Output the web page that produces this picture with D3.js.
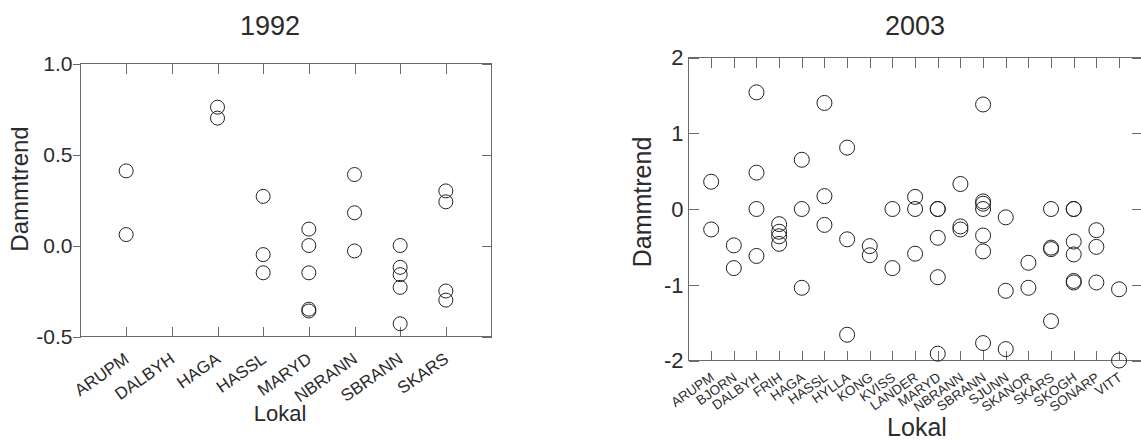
<!DOCTYPE html>
<html>
<head>
<meta charset="utf-8">
<script src="https://cdn.jsdelivr.net/npm/d3@7"></script>
<style>
    body { margin: 0; background: #fff; }
    svg { display: block; font-family: Arial, "Liberation Sans", sans-serif; }
    .frame { stroke: #6a6a6a; stroke-width: 1; fill: none; shape-rendering: crispEdges; }
    .tick-line { stroke: #6a6a6a; stroke-width: 1; shape-rendering: crispEdges; }
    .dot { fill: none; stroke: #222; stroke-width: 1; }
    text { fill: #2b2b2b; }
</style>
</head>
<body>
<div class="chart"></div>
<script>

//////////
// DATA //
//////////

// 1992 panel
var sites1992 = ['ARUPM', 'DALBYH', 'HAGA', 'HASSL', 'MARYD', 'NBRANN', 'SBRANN', 'SKARS'];
var trend1992 = [
    [0.41, 0.06],
    [],
    [0.76, 0.70],
    [0.27, -0.05, -0.15],
    [0.09, 0.00, -0.15, -0.35, -0.36],
    [0.39, 0.18, -0.03],
    [0.00, -0.12, -0.16, -0.23, -0.43],
    [0.30, 0.24, -0.25, -0.30]
];
var yTicks1992 = [-0.5, 0.0, 0.5, 1.0];

// 2003 panel
var sites2003 = ['ARUPM', 'BJORN', 'DALBYH', 'FRIH', 'HAGA', 'HASSL', 'HYLLA', 'KONG', 'KVISS', 'LANDER',
    'MARYD', 'NBRANN', 'SBRANN', 'SJUNN', 'SKANOR', 'SKARS', 'SKOGH', 'SONARP', 'VITT'];
var trend2003 = [
    [0.36, -0.27],
    [-0.48, -0.78],
    [1.54, 0.48, 0.00, -0.62],
    [-0.20, -0.30, -0.36, -0.46],
    [0.65, 0.00, -1.04],
    [1.40, 0.17, -0.21],
    [0.81, -0.40, -1.66],
    [-0.49, -0.61],
    [0.00, -0.78],
    [0.16, 0.00, -0.59],
    [0.00, 0.00, -0.38, -0.90, -1.91],
    [0.33, -0.23, -0.27],
    [1.38, 0.10, 0.07, 0.00, -0.35, -0.56, -1.77],
    [-0.11, -1.08, -1.85],
    [-0.71, -1.04],
    [0.00, -0.51, -0.53, -1.48],
    [0.00, 0.00, -0.43, -0.60, -0.95, -0.97],
    [-0.28, -0.50, -0.97],
    [-1.06, -2.00]
];
var yTicks2003 = [-2, -1, 0, 1, 2];

//////////////////
// PAGE ELEMENT //
//////////////////

var svg = d3.select('.chart')
    .append('svg')
    .attr('width', 1141)
    .attr('height', 441);

// plain hyphen for negatives, like the original
function hyphen(f) {
    return function(d) { return f(d).replace('\u2212', '-'); };
}

//////////////////////////
// PANEL DRAWING METHOD //
//////////////////////////

function drawPanel(o) {

    var xScale = d3.scalePoint()
        .domain(o.sites)
        .range([o.left, o.right])
        .padding(1);

    var yScale = d3.scaleLinear()
        .domain(o.yDomain)
        .range([o.bottom, o.top]);

    var g = svg.append('g');

    // flatten points
    var points = [];
    o.sites.forEach(function(s, i) {
        o.values[i].forEach(function(v) {
            points.push({ site: s, value: v });
        });
    });

    // frame
    g.append('rect')
        .attr('class', 'frame')
        .attr('x', o.left)
        .attr('y', o.top)
        .attr('width', o.right - o.left)
        .attr('height', o.bottom - o.top);

    // x ticks, bottom and top, inward
    g.selectAll('.xtick-b')
        .data(o.sites)
        .enter()
        .append('line')
        .attr('class', 'tick-line')
        .attr('x1', function(d) { return Math.round(xScale(d)) + 0.5; })
        .attr('x2', function(d) { return Math.round(xScale(d)) + 0.5; })
        .attr('y1', o.bottom)
        .attr('y2', o.bottom - 10);

    g.selectAll('.xtick-t')
        .data(o.sites)
        .enter()
        .append('line')
        .attr('class', 'tick-line')
        .attr('x1', function(d) { return Math.round(xScale(d)) + 0.5; })
        .attr('x2', function(d) { return Math.round(xScale(d)) + 0.5; })
        .attr('y1', o.top)
        .attr('y2', o.top + 10);

    // y ticks left
    g.selectAll('.ytick-l')
        .data(o.yTicks)
        .enter()
        .append('line')
        .attr('class', 'tick-line')
        .attr('x1', o.left)
        .attr('x2', o.left + o.leftTick)
        .attr('y1', function(d) { return Math.round(yScale(d)) + 0.5; })
        .attr('y2', function(d) { return Math.round(yScale(d)) + 0.5; });

    // y ticks right, inward
    g.selectAll('.ytick-r')
        .data(o.yTicks)
        .enter()
        .append('line')
        .attr('class', 'tick-line')
        .attr('x1', o.right)
        .attr('x2', o.right - 10)
        .attr('y1', function(d) { return Math.round(yScale(d)) + 0.5; })
        .attr('y2', function(d) { return Math.round(yScale(d)) + 0.5; });

    // y tick labels
    g.selectAll('.ylab')
        .data(o.yTicks)
        .enter()
        .append('text')
        .attr('x', o.left - o.labelGap)
        .attr('y', function(d) { return yScale(d); })
        .attr('dy', '0.36em')
        .attr('text-anchor', 'end')
        .style('font-size', o.tickFont + 'px')
        .text(function(d) { return o.yFormat(d); });

    // x tick labels, rotated
    g.selectAll('.xlab')
        .data(o.sites)
        .enter()
        .append('text')
        .attr('text-anchor', 'end')
        .attr('transform', function(d) {
            return 'translate(' + (xScale(d) + o.xLabDx) + ',' + (o.bottom + o.xLabDy) + ') rotate(-35)';
        })
        .style('font-size', o.xFont + 'px')
        .text(function(d) { return d; });

    // circles
    g.selectAll('.dot')
        .data(points)
        .enter()
        .append('circle')
        .attr('class', 'dot')
        .attr('cx', function(d) { return xScale(d.site); })
        .attr('cy', function(d) { return yScale(d.value); })
        .attr('r', o.r);

    // title
    g.append('text')
        .attr('x', o.titleX)
        .attr('y', 35)
        .attr('text-anchor', 'middle')
        .style('font-size', '27px')
        .text(o.title);

    // axis titles
    g.append('text')
        .attr('x', o.xTitleX)
        .attr('y', o.xTitleY)
        .attr('text-anchor', 'middle')
        .style('font-size', o.xTitleFont + 'px')
        .text('Lokal');

    g.append('text')
        .attr('transform', 'translate(' + o.yTitleX + ',' + o.yTitleY + ') rotate(-90)')
        .attr('text-anchor', 'middle')
        .style('font-size', o.yTitleFont + 'px')
        .text('Dammtrend');
}

drawPanel({
    title: '1992',
    sites: sites1992,
    values: trend1992,
    yTicks: yTicks1992,
    yDomain: [-0.5, 1.0],
    yFormat: hyphen(d3.format('.1f')),
    left: 80.5, right: 491.5, top: 63.5, bottom: 336.5,
    leftTick: -8, labelGap: 8,
    tickFont: 21, xFont: 17, xLabDx: 4, xLabDy: 25,
    r: 7,
    titleX: 270,
    xTitleX: 280, xTitleY: 421, xTitleFont: 22,
    yTitleX: 28, yTitleY: 189, yTitleFont: 24
});

drawPanel({
    title: '2003',
    sites: sites2003,
    values: trend2003,
    yTicks: yTicks2003,
    yDomain: [-2, 2],
    yFormat: hyphen(d3.format('d')),
    left: 688.5, right: 1141.7, top: 57.5, bottom: 360.5,
    leftTick: 10, labelGap: 5,
    tickFont: 22, xFont: 13.5, xLabDx: 4, xLabDy: 19,
    r: 7.5,
    titleX: 915,
    xTitleX: 917, xTitleY: 436, xTitleFont: 25,
    yTitleX: 651, yTitleY: 202, yTitleFont: 25
});

</script>
</body>
</html>
